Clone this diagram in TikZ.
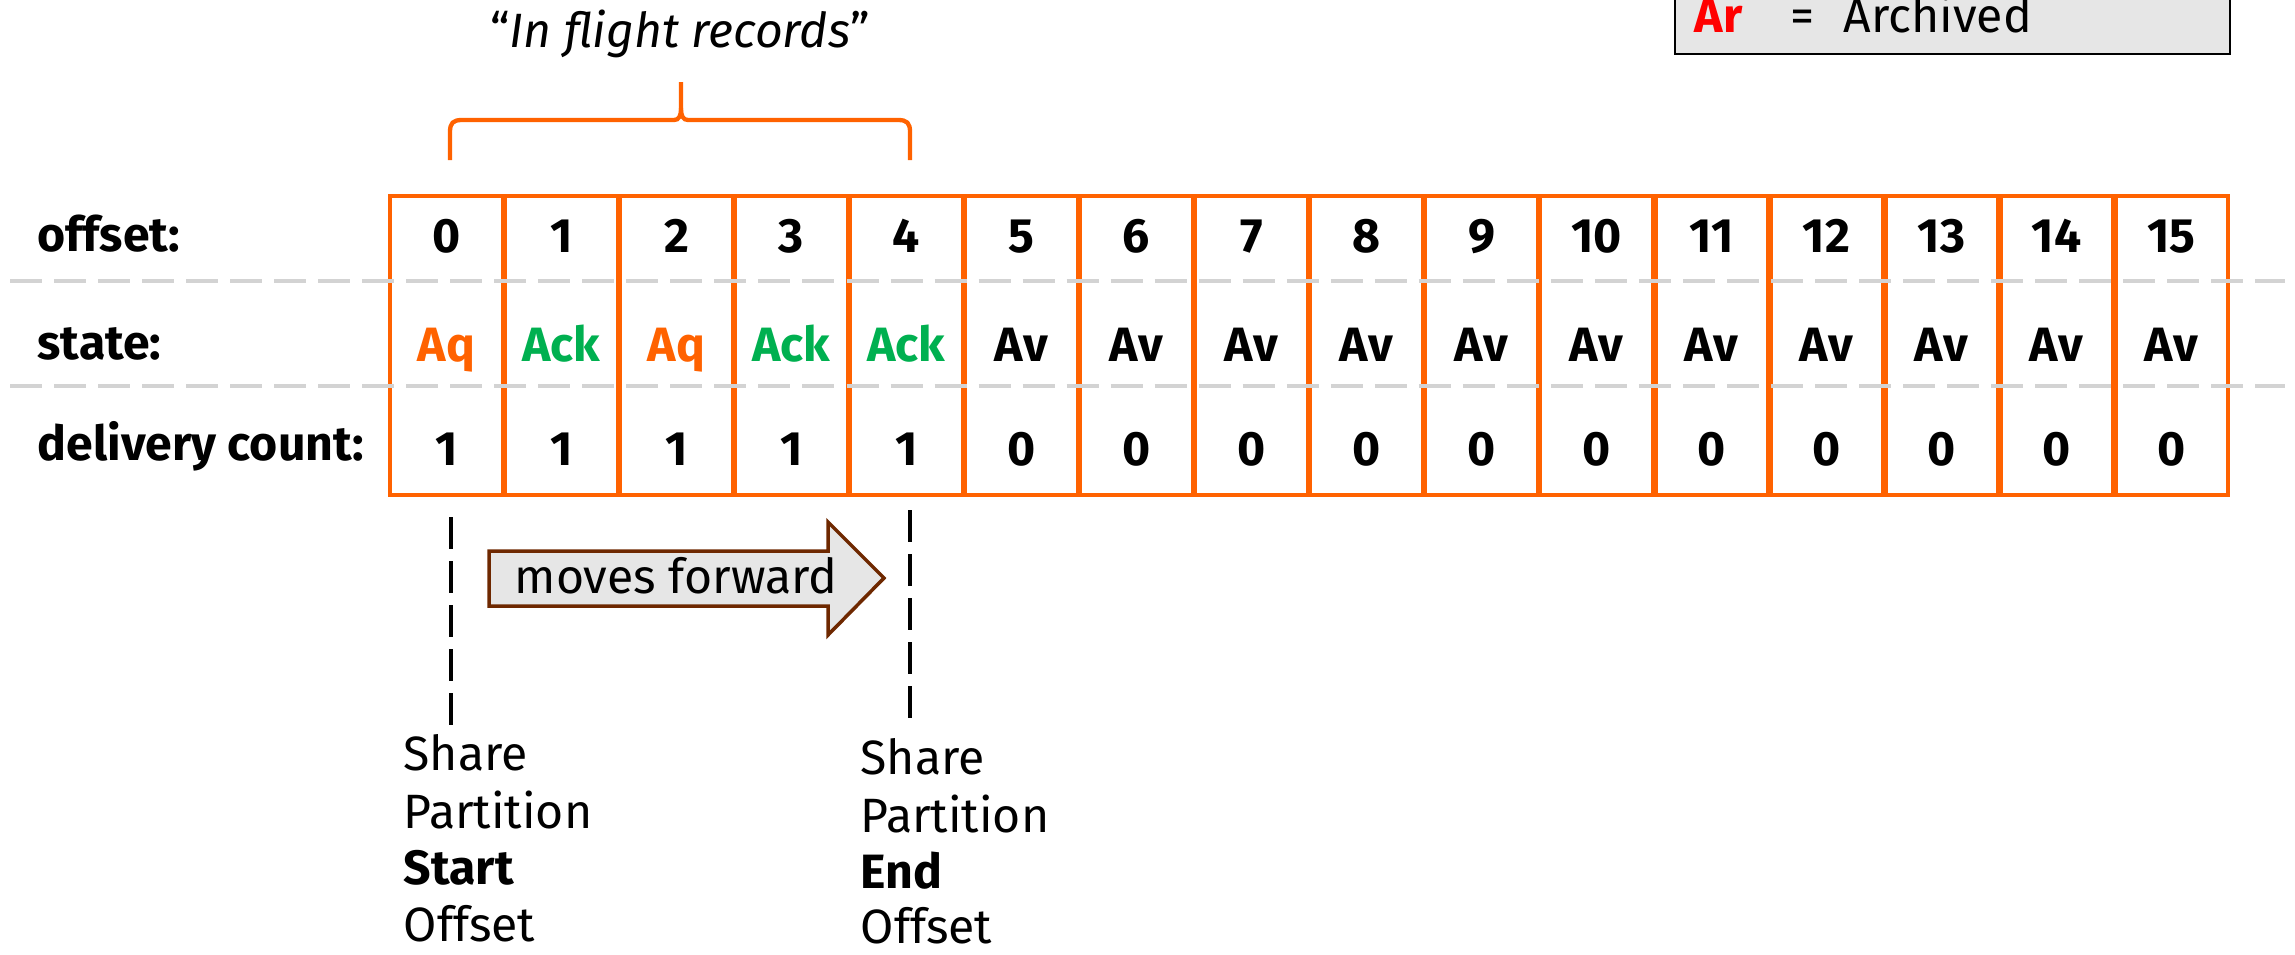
\documentclass[tikz,border=0pt]{standalone}
\usepackage{fontspec}
\setmainfont{Fira Sans}
\definecolor{ingorange}{HTML}{FF6200}
\definecolor{ackgreen}{HTML}{00B050}
\definecolor{archred}{HTML}{FF0000}
\definecolor{arrowbrown}{HTML}{6E2800}
\definecolor{fillgray}{HTML}{E6E6E6}
\definecolor{dashgray}{HTML}{D3D3D3}
\begin{document}
\begin{tikzpicture}[x=0.01cm,y=-0.01cm,
  txt/.style={inner sep=0pt, font=\fontsize{13.7pt}{16.5pt}\selectfont},
  boldtxt/.style={inner sep=0pt, font=\fontsize{13.7pt}{16.5pt}\selectfont\bfseries},
  cellbox/.style={draw=ingorange, line width=0.045cm, minimum width=1.125cm, minimum height=2.99cm, inner sep=0pt},
  rowsep/.style={draw=dashgray, line width=0.045cm, dash pattern=on 0.32cm off 0.12cm},
  marker/.style={draw=black, line width=0.035cm, dash pattern=on 0.32cm off 0.12cm},
  bracestyle/.style={draw=ingorange, line width=0.043cm},
  arrowbody/.style={draw=arrowbrown, fill=fillgray, line width=0.035cm, line join=miter},
  legendbox/.style={draw=black, fill=fillgray, line width=0.02cm},
]
\useasboundingbox (0,0) rectangle (2295,954);
\clip (0,0) rectangle (2295,954);

% legend
\node[legendbox, minimum width=5.55cm, minimum height=1.2cm, inner sep=0pt] (legend) at (1952.5,-6) {};
\node[boldtxt, text=archred, anchor=base west] (ar) at (1694,32) {Ar};
\node[txt, anchor=base west] (eq) at (1790,32) {=};
\node[txt, anchor=base west] (arch) at (1843,32) {Archived};

% brace and title
\node[txt, anchor=base] (ifr) at (680,47) {“\textit{In flight records}”};
\draw[bracestyle] (450,160) -- (450,132) .. controls (450,123) and (453,120) .. (462,120)
  -- (674,120) .. controls (679,120) and (681,116) .. (681,108) -- (681,82);
\draw[bracestyle] (910,160) -- (910,132) .. controls (910,123) and (907,120) .. (898,120)
  -- (688,120) .. controls (683,120) and (681,116) .. (681,108);

% cells
\foreach \i in {0,...,15}
  \node[cellbox] (c\i) at ({446.5+115*\i},345.5) {};

% row separators
\coordinate (l1a) at (10,281);
\coordinate (l1b) at (2285,281);
\coordinate (l2a) at (10,386);
\coordinate (l2b) at (2285,386);
\draw[rowsep] (l1a) -- (l1b);
\draw[rowsep] (l2a) -- (l2b);

% row labels
\node[boldtxt, anchor=base west] (loff) at (37,251) {offset:};
\node[boldtxt, anchor=base west] (lstate) at (37,359) {state:};
\node[boldtxt, anchor=base west] (ldel) at (37,460) {delivery count:};

% offsets
\foreach \i in {0,...,15}
  \node[boldtxt, anchor=base] (o\i) at ({446.5+115*\i},252) {\i};

% states
\foreach \s/\c [count=\i from 0] in {Aq/ingorange,Ack/ackgreen,Aq/ingorange,Ack/ackgreen,Ack/ackgreen,Av/black,Av/black,Av/black,Av/black,Av/black,Av/black,Av/black,Av/black,Av/black,Av/black,Av/black}
  \node[boldtxt, text=\c, anchor=base] (s\i) at ({446.5+115*\i},361) {\s};

% delivery counts
\foreach \d [count=\i from 0] in {1,1,1,1,1,0,0,0,0,0,0,0,0,0,0,0}
  \node[boldtxt, anchor=base] (d\i) at ({446.5+115*\i},465) {\d};

% markers
\coordinate (st1) at (451,517);
\coordinate (st2) at (451,725);
\coordinate (en1) at (910,510);
\coordinate (en2) at (910,718);
\draw[marker] (st1) -- (st2);
\draw[marker] (en1) -- (en2);

% moves forward arrow
\draw[arrowbody] (489,551) -- (828,551) -- (828,522) -- (884,578) -- (828,635) -- (828,606) -- (489,606) -- cycle;
\node[txt, anchor=base west] (mv) at (514,593) {moves forward};

% bottom labels
\node[txt, anchor=base west] (sa) at (403,770) {Share};
\node[txt, anchor=base west] (sb) at (403,828) {Partition};
\node[boldtxt, anchor=base west] (sc) at (403,884) {Start};
\node[txt, anchor=base west] (sd) at (403,941) {Offset};
\node[txt, anchor=base west] (ea) at (860,774) {Share};
\node[txt, anchor=base west] (eb) at (860,832) {Partition};
\node[boldtxt, anchor=base west] (ec) at (860,888) {End};
\node[txt, anchor=base west] (ed) at (860,943) {Offset};
\end{tikzpicture}
\end{document}
